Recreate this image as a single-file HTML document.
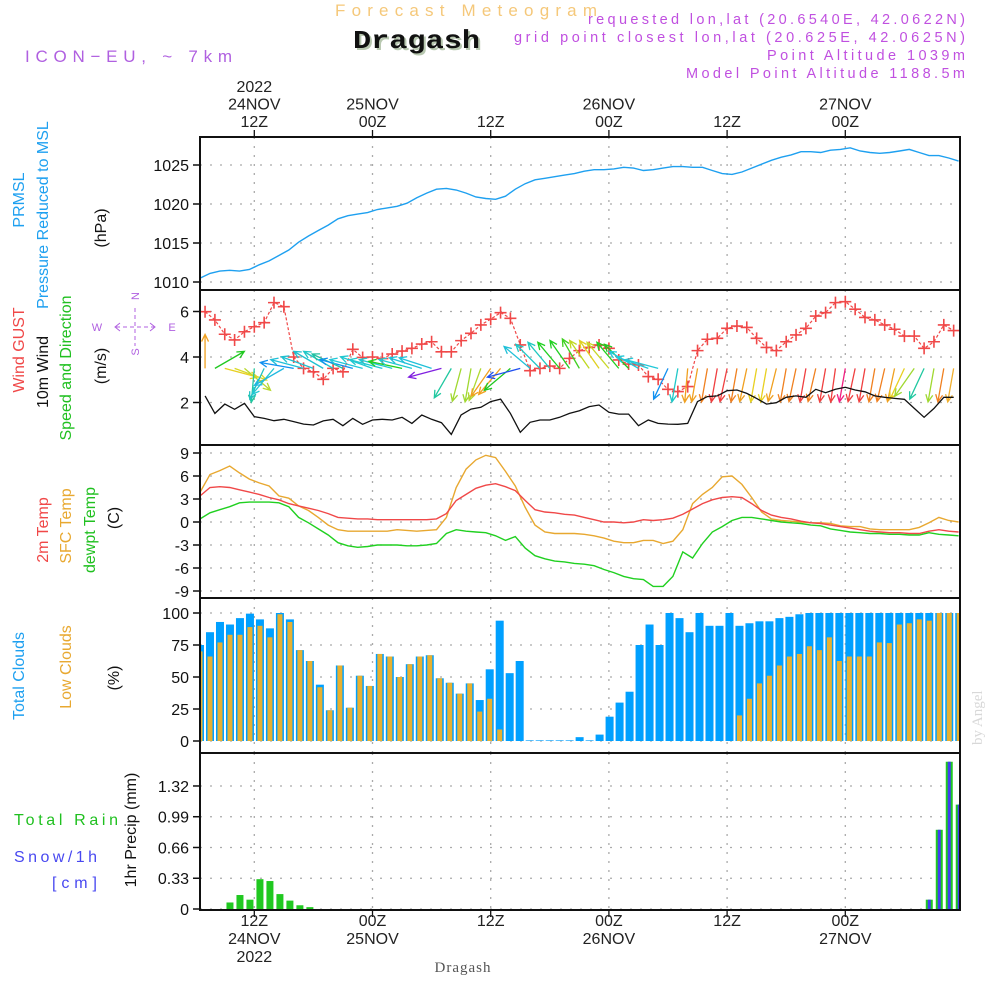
<!DOCTYPE html>
<html><head><meta charset="utf-8"><title>Forecast Meteogram - Dragash</title>
<style>
html,body{margin:0;padding:0;background:#fff;}
svg{display:block;font-family:"Liberation Sans",sans-serif;}
</style></head>
<body>
<svg id="chart" xmlns="http://www.w3.org/2000/svg" width="1000" height="1000" viewBox="0 0 1000 1000">
  <defs><clipPath id="plotclip"><rect x="200" y="130" width="760" height="790"/></clipPath></defs>
  <rect width="1000" height="1000" fill="#fff"/>
  <text x="335" y="16" font-size="17" fill="#f5c87a" textLength="262" lengthAdjust="spacing">Forecast Meteogram</text>
  <text x="355" y="50" font-family="Liberation Mono, monospace" font-weight="bold" font-size="26" fill="#b8c8b0" textLength="127" lengthAdjust="spacingAndGlyphs">Dragash</text>
  <text x="353" y="48" font-family="Liberation Mono, monospace" font-weight="bold" font-size="26" fill="#111" textLength="127" lengthAdjust="spacingAndGlyphs">Dragash</text>
  <text x="25" y="62" font-size="17" fill="#b060e0" textLength="207" lengthAdjust="spacing">ICON−EU, ~ 7km</text>
  <g font-size="14.5" fill="#c050e0" text-anchor="end">
    <text x="965" y="24" textLength="377" lengthAdjust="spacing">requested lon,lat (20.6540E, 42.0622N)</text>
    <text x="965" y="42" textLength="451" lengthAdjust="spacing">grid point closest lon,lat (20.625E, 42.0625N)</text>
    <text x="965" y="60" textLength="198" lengthAdjust="spacing">Point Altitude 1039m</text>
    <text x="965" y="78" textLength="279" lengthAdjust="spacing">Model Point Altitude 1188.5m</text>
  </g>
  <text transform="translate(982,745) rotate(-90)" font-family="Liberation Serif,serif" font-size="15" fill="#d8d8d8">by Angel</text>
  <text x="463" y="972" text-anchor="middle" font-family="Liberation Serif,serif" font-size="15" fill="#555" letter-spacing="1">Dragash</text>

  <g font-size="16">
    <text transform="translate(24,200) rotate(-90)" text-anchor="middle" fill="#1ea0f0">PRMSL</text>
    <text transform="translate(48,215) rotate(-90)" text-anchor="middle" fill="#1ea0f0">Pressure Reduced to MSL</text>
    <text transform="translate(106,228) rotate(-90)" text-anchor="middle" fill="#111">(hPa)</text>
    <text transform="translate(24,350) rotate(-90)" text-anchor="middle" fill="#f04848">Wind GUST</text>
    <text transform="translate(48,372) rotate(-90)" text-anchor="middle" fill="#111">10m Wind</text>
    <text transform="translate(71,368) rotate(-90)" text-anchor="middle" fill="#20c020">Speed and Direction</text>
    <text transform="translate(106,366) rotate(-90)" text-anchor="middle" fill="#111">(m/s)</text>
    <text transform="translate(48,530) rotate(-90)" text-anchor="middle" fill="#f04848">2m Temp</text>
    <text transform="translate(71,526) rotate(-90)" text-anchor="middle" fill="#e8a830">SFC Temp</text>
    <text transform="translate(95,530) rotate(-90)" text-anchor="middle" fill="#20c020">dewpt Temp</text>
    <text transform="translate(119,518) rotate(-90)" text-anchor="middle" fill="#111">(C)</text>
    <text transform="translate(24,676) rotate(-90)" text-anchor="middle" fill="#1ea0f0">Total Clouds</text>
    <text transform="translate(71,667) rotate(-90)" text-anchor="middle" fill="#e8a830">Low Clouds</text>
    <text transform="translate(119,678) rotate(-90)" text-anchor="middle" fill="#111">(%)</text>
    <text x="14" y="825" fill="#20c020" textLength="104" lengthAdjust="spacing">Total  Rain</text>
    <text x="14" y="862" fill="#4848f0" textLength="83" lengthAdjust="spacing">Snow/1h</text>
    <text x="52" y="888" fill="#4848f0" textLength="45" lengthAdjust="spacing">[cm]</text>
    <text transform="translate(136,830) rotate(-90)" text-anchor="middle" fill="#111">1hr Precip (mm)</text>
  </g>
  <g fill="#b060e0" stroke="#b060e0" font-size="11">
    <text x="135" y="300" text-anchor="middle" stroke="none" transform="rotate(-90 135 296)">N</text>
    <text x="97" y="331" text-anchor="middle" stroke="none">W</text>
    <text x="172" y="331" text-anchor="middle" stroke="none">E</text>
    <text x="135" y="356" text-anchor="middle" stroke="none" transform="rotate(-90 135 352)">S</text>
    <line x1="116" y1="327" x2="154" y2="327" stroke-dasharray="4,3"/>
    <line x1="135" y1="308" x2="135" y2="346" stroke-dasharray="4,3"/>
    <path d="M120,323L115,327L120,331M150,323L155,327L150,331" fill="none"/>
  </g>
  <g id="plot"></g>
</svg>
<script>
// ---------- DATA ----------
const pressure = [1010.5,1011.1,1011.4,1011.5,1011.4,1011.6,1012.2,1012.7,1013.4,1014.1,1015.1,1015.9,1016.6,1017.3,1018.1,1018.5,1018.7,1018.9,1019.3,1019.5,1019.7,1020.1,1020.8,1021.4,1021.9,1022.0,1021.8,1021.4,1020.9,1020.7,1020.6,1021.0,1021.9,1022.6,1023.1,1023.3,1023.5,1023.7,1023.9,1024.2,1024.4,1024.4,1024.5,1024.7,1024.6,1024.3,1024.4,1024.6,1024.8,1024.8,1024.7,1024.7,1024.3,1023.9,1023.8,1024.1,1024.6,1025.1,1025.6,1026.0,1026.3,1026.7,1026.7,1026.6,1026.9,1027.0,1027.2,1026.8,1026.6,1026.5,1026.6,1026.8,1027.0,1026.6,1026.2,1026.2,1025.9,1025.5];
const windGust = [5.99,5.63,5.0,4.75,5.11,5.33,5.51,6.39,6.21,4.0,3.5,3.35,3.02,3.5,3.35,4.34,3.98,4.0,3.93,4.13,4.26,4.38,4.57,4.67,4.23,4.23,4.72,5.04,5.41,5.66,5.95,5.7,4.53,3.4,3.5,3.6,3.5,3.94,4.28,4.42,4.53,4.38,3.87,3.69,3.65,3.14,3.02,2.58,2.48,2.7,4.28,4.78,4.82,5.26,5.36,5.3,4.82,4.42,4.28,4.67,4.97,5.26,5.8,5.95,6.39,6.43,6.1,5.74,5.63,5.41,5.22,4.92,4.92,4.38,4.67,5.41,5.16];
const wind10m = [2.29,1.52,1.93,1.70,1.96,1.38,1.30,1.20,1.26,1.16,1.05,1.01,1.19,1.26,0.98,1.30,1.04,1.23,1.26,1.23,1.35,1.08,1.45,1.26,1.11,0.60,1.45,1.71,1.79,2.04,2.15,1.52,0.69,1.13,1.23,1.23,1.35,1.52,1.64,1.82,1.89,1.57,1.49,1.49,0.98,1.23,1.08,1.05,1.04,1.08,2.04,2.26,2.29,2.52,2.55,2.40,2.18,1.93,1.99,2.23,2.29,2.23,2.58,2.43,2.58,2.67,2.55,2.47,2.29,2.23,2.18,2.14,1.74,1.35,1.74,2.23,2.23];
const windDir = [90,30,-15,-20,-40,-95,-115,-130,-150,170,165,160,150,150,155,165,165,160,165,165,168,165,162,162,195,-120,-105,-100,-110,-125,-130,-140,195,140,135,130,130,125,120,125,125,130,130,135,150,160,165,-115,-100,-95,-100,-100,-100,-102,-100,-102,-100,-100,-104,-100,-102,-100,-103,-100,-98,-100,-102,-100,-100,-103,-102,-115,-125,-115,-100,-100,-100];
const windColor = ["#f0a020","#20c820","#e8d020","#d8d828","#b8d830","#20c8a0","#20c0c0","#20c8d0","#20b8e0","#1090f0","#20c0d8","#20c0d0","#20c0d0","#20c8c8","#20c0a0","#1090f0","#20c8d8","#20c8d0","#20c8d0","#20c8d0","#20d020","#20c8d0","#20c0d8","#20c0d8","#8020e0","#20c8a0","#a0d830","#a0d830","#b0d830","#f0a020","#f0a020","#20c820","#2050f0","#20c0d8","#20c8c8","#20c8c0","#20d020","#20d020","#40d020","#c0d820","#e0d020","#c8d828","#20d020","#20c820","#20c8d8","#20c8d8","#20c8d8","#1090f0","#20c8c8","#f0a020","#f0a020","#f08020","#f04040","#f04040","#f08020","#f0a020","#e8d020","#e8d020","#f0a020","#f08020","#f08020","#f04040","#f08020","#f04040","#f04040","#f02080","#f04040","#f04040","#f08020","#f08020","#f0a020","#e8d020","#a0d830","#20c8a0","#a0d830","#f08020","#f0b030"];
const temp2m = [3.4,4.5,4.6,4.5,4.2,3.9,3.6,3.2,2.9,2.4,2.1,1.8,1.5,1.1,0.6,0.5,0.4,0.4,0.3,0.3,0.3,0.3,0.3,0.3,0.4,1.1,2.8,3.6,4.4,4.8,5.0,4.6,4.1,2.8,1.6,1.3,1.2,1.0,0.9,0.6,0.3,0.0,0.0,-0.1,0.0,0.3,0.2,0.3,0.5,1.0,1.7,2.4,2.9,3.2,3.3,3.2,2.4,1.5,0.9,0.6,0.4,0.1,-0.1,-0.2,-0.4,-0.6,-0.8,-1.0,-1.2,-1.3,-1.4,-1.4,-1.5,-1.5,-1.2,-1.0,-1.2,-1.3];
const tempSfc = [3.9,6.2,6.7,7.3,6.4,5.6,5.1,4.7,3.4,3.1,2.1,1.5,0.6,-0.4,-1.0,-1.2,-1.2,-1.2,-1.2,-1.2,-1.0,-1.1,-1.2,-1.1,-1.0,0.6,4.5,6.9,8.1,8.7,8.4,6.6,4.7,1.9,-0.4,-1.3,-1.5,-1.5,-1.5,-1.6,-1.8,-2.1,-2.5,-2.7,-2.7,-2.4,-2.4,-2.8,-2.5,-1.0,2.4,3.6,4.5,5.9,6.0,4.9,3.2,1.3,0.4,0.2,0.1,0.0,-0.1,-0.1,-0.2,-0.5,-0.6,-0.6,-0.9,-1.0,-1.0,-1.0,-1.0,-0.7,-0.1,0.6,0.2,0.0];
const tempDew = [0.4,1.2,1.6,2.0,2.5,2.6,2.6,2.6,2.5,2.0,0.6,-0.1,-0.9,-1.7,-2.7,-3.1,-3.3,-3.2,-3.0,-3.0,-3.0,-3.1,-3.1,-3.0,-2.8,-1.5,-1.0,-1.2,-1.3,-1.4,-1.8,-2.4,-1.9,-3.4,-4.4,-4.8,-5.1,-5.2,-5.4,-5.5,-5.7,-6.2,-6.6,-7.1,-7.4,-7.5,-8.4,-8.4,-7.1,-3.9,-4.7,-2.8,-1.3,-0.6,0.2,0.6,0.6,0.4,0.2,0.0,-0.1,-0.2,-0.4,-0.5,-0.9,-1.1,-1.3,-1.4,-1.5,-1.5,-1.6,-1.6,-1.7,-1.7,-1.4,-1.6,-1.7,-1.8];
const cloudTotal = [75,85,93,91,96,99.5,95,88,100,95,71,62.5,44,24,59,26,51,43,68,66,50,60,66,67,49,45.5,37,45,32,56,94,53,62.5,0.5,0.5,0.5,0.5,0.5,3,0.5,5,19,30,38.5,75,91,75,100,96,85,100,90,90,100,90,92,93.5,93.5,96,97,99,100,100,100,100,100,100,100,100,100,100,100,100,100,100,100,100];
const cloudLow = [70,66,77,83,83,89,90,81,99,93,71,62.5,42,24,59,26,51,43,68,66,50,60,66,67,49,45.5,37,45,23,33,9,0,0,0,0,0,0,0,0,0,0,0,0,0,0,0,0,0,0,0,0,0,0,0,20,33,45,51,59,66,68,74,71,81,62.5,66,66,66,77,76.5,91,92,95,94,100,100,100];
const precipRain = [0,0,0,0.07,0.15,0.10,0.32,0.30,0.16,0.09,0.04,0.02,0,0,0,0,0,0,0,0,0,0,0,0,0,0,0,0,0,0,0,0,0,0,0,0,0,0,0,0,0,0,0,0,0,0,0,0,0,0,0,0,0,0,0,0,0,0,0,0,0,0,0,0,0,0,0,0,0,0,0,0,0,0.1,0.85,1.58,1.12];
const precipSnow = [0,0,0,0,0,0,0,0,0,0,0,0,0,0,0,0,0,0,0,0,0,0,0,0,0,0,0,0,0,0,0,0,0,0,0,0,0,0,0,0,0,0,0,0,0,0,0,0,0,0,0,0,0,0,0,0,0,0,0,0,0,0,0,0,0,0,0,0,0,0,0,0,0,0.1,0.85,1.58,1.12];
const pressureTicks = [1025,1020,1015,1010];
const windTicks = [6,4,2];
const tempTicks = [9,6,3,0,-3,-6,-9];
const cloudTicks = [100,75,50,25,0];
const precipTicks = [1.32,0.99,0.66,0.33,0];
const timeHours = [0,12,24,36,48,60];
const topLabels = [["2022","24NOV","12Z"],["","25NOV","00Z"],["","","12Z"],["","26NOV","00Z"],["","","12Z"],["","27NOV","00Z"]];
const bottomLabels = [["12Z","24NOV","2022"],["00Z","25NOV",""],["12Z","",""],["00Z","26NOV",""],["12Z","",""],["00Z","27NOV",""]];

// ---------- SCALES ----------
const X0 = 200, X1 = 960;
const xH = h => 254.3 + 9.85 * h;
const xSeries = i => xH(-5.5 + i);
const xWind = i => xH(-5.0 + i);
const xBar = i => 200 + i * 9.99;
const yP = v => 165 + (1025 - v) * 7.8;
const yW = v => 357 - (v - 4) * 22.75;
const yT = v => 522 - v * 7.667;
const yC = v => 741 - v * 1.28;
const yR = v => 909 - v * 93.2;
const panels = [[137,290],[290,445],[445,598],[598,753],[753,910]];

const NS = "http://www.w3.org/2000/svg";
const plot = document.getElementById("plot");
function mk(tag, attrs, parent) {
  const e = document.createElementNS(NS, tag);
  for (const k in attrs) e.setAttribute(k, attrs[k]);
  (parent || plot).appendChild(e);
  return e;
}
function grp(name) {
  const g = mk("g", {});
  
  
  return g;
}

const grid = grp('grid-lines');
panels.forEach(([t, b]) => {
  timeHours.forEach(h => {
    const l = mk("line", {x1: xH(h), x2: xH(h), y1: t, y2: b, stroke: "#aaa", "stroke-dasharray": "2,7", "stroke-width": 1.3}, grid);
    
    
  });
});
function hgrid(ticks, yf, name) {
  ticks.forEach(v => {
    const l = mk("line", {x1: X0, x2: X1, y1: yf(v), y2: yf(v), stroke: "#aaa", "stroke-dasharray": "2,8", "stroke-width": 1.3}, grid);
    
    
  });
}
hgrid(pressureTicks, yP, 'pressure-gridline');
hgrid(windTicks, yW, 'wind-gridline');
hgrid(tempTicks, yT, 'temp-gridline');
hgrid(cloudTicks, yC, 'cloud-gridline');
hgrid(precipTicks, yR, 'precip-gridline');

function linePath(arr, xf, yf) {
  return arr.map((v, i) => (i ? "L" : "M") + xf(i).toFixed(1) + "," + yf(v).toFixed(1)).join("");
}

const pLine = mk("path", {d: linePath(pressure, xSeries, yP), fill: "none", stroke: "#1ea0f0", "stroke-width": 1.4});



const gLine = mk("path", {d: linePath(windGust, xWind, yW), fill: "none", stroke: "#f04848", "stroke-width": 1.2, "stroke-dasharray": "3,2"});


const gustG = grp('wind-gust-markers');
windGust.forEach((v, i) => {
  const x = xWind(i), y = yW(v);
  const m = mk("path", {d: `M${x-6},${y}H${x+6}M${x},${y-6}V${y+6}`, stroke: "#f04848", "stroke-width": 1.6}, gustG);
  
  
});
const arrG = grp('wind-direction-arrows');
windDir.forEach((d, i) => {
  const x = xWind(i), y = yW(3.5);
  const a = d * Math.PI / 180, L = 34;
  const x2 = x + L * Math.cos(a), y2 = y - L * Math.sin(a);
  const hl = 8, s = 0.45;
  const h1x = x2 - hl * Math.cos(a - s), h1y = y2 + hl * Math.sin(a - s);
  const h2x = x2 - hl * Math.cos(a + s), h2y = y2 + hl * Math.sin(a + s);
  const p = mk("path", {d: `M${x},${y}L${x2},${y2}M${h1x},${h1y}L${x2},${y2}L${h2x},${h2y}`, stroke: windColor[i], "stroke-width": 1.3, fill: "none"}, arrG);
  
  
});
const wLine = mk("path", {d: linePath(wind10m, xWind, yW), fill: "none", stroke: "#111", "stroke-width": 1.3});



[[tempSfc, "#e8a830", "sfc-temp-line"], [temp2m, "#f04848", "temp-2m-line"], [tempDew, "#20d020", "dewpoint-line"]].forEach(([arr, c, n]) => {
  const l = mk("path", {d: linePath(arr, xSeries, yT), fill: "none", stroke: c, "stroke-width": 1.4});
  
  
});

const cG = grp('cloud-bars');
cG.setAttribute("clip-path", "url(#plotclip)");
cloudTotal.forEach((v, i) => {
  const x = xBar(i);
  const b = mk("rect", {x: x - 4, y: yC(v), width: 8, height: Math.max(0.6, 741 - yC(v)), fill: "#00a0ff"}, cG);
  
  
  const lv = cloudLow[i];
  if (lv > 0) {
    const r = mk("rect", {x: x - 2.5, y: yC(lv), width: 5, height: 741 - yC(lv), fill: "#e8b030"}, cG);
    
    
  }
});

const rG = grp('precip-bars');
rG.setAttribute("clip-path", "url(#plotclip)");
precipRain.forEach((v, i) => {
  const x = xBar(i);
  if (v > 0) {
    const b = mk("rect", {x: x - 3.5, y: yR(v), width: 7, height: 909 - yR(v), fill: "#20c820"}, rG);
    
    
  }
  const s = precipSnow[i];
  if (s > 0) {
    const r = mk("rect", {x: x - 1.5, y: yR(s), width: 3, height: 909 - yR(s), fill: "#4040f0"}, rG);
    
    
  }
});

const fG = grp('panel-frames');
panels.forEach(([t, b]) => {
  const r = mk("rect", {x: X0, y: t, width: X1 - X0, height: b - t, fill: "none", stroke: "#111", "stroke-width": 2}, fG);
  
  
});

const tG = grp('y-tick-labels');
function yticks(ticks, yf, name) {
  ticks.forEach(v => {
    const y = yf(v);
    const tk = mk("line", {x1: X0 - 7, x2: X0, y1: y, y2: y, stroke: "#111", "stroke-width": 1.5}, tG);
    
    
    const t = mk("text", {x: X0 - 11, y: y + 6, "text-anchor": "end", "font-size": 16, fill: "#111"}, tG);
    t.textContent = String(v);
    
    
  });
}
yticks(pressureTicks, yP, 'pressure');
yticks(windTicks, yW, 'wind');
yticks(tempTicks, yT, 'temp');
yticks(cloudTicks, yC, 'cloud');
yticks(precipTicks, yR, 'precip');

const xG = grp('x-axis-labels');
timeHours.forEach((h, k) => {
  const x = xH(h);
  const tk1 = mk("line", {x1: x, x2: x, y1: 130, y2: 137, stroke: "#111", "stroke-width": 1.3}, xG);
  
  
  const tk2 = mk("line", {x1: x, x2: x, y1: 910, y2: 917, stroke: "#111", "stroke-width": 1.3}, xG);
  
  
  topLabels[k].forEach((s, j) => {
    if (!s) return;
    const t = mk("text", {x: x, y: 92 + j * 17.5, "text-anchor": "middle", "font-size": 16, fill: "#222"}, xG);
    t.textContent = s;
    
    
  });
  bottomLabels[k].forEach((s, j) => {
    if (!s) return;
    const t = mk("text", {x: x, y: 926 + j * 18, "text-anchor": "middle", "font-size": 16, fill: "#222"}, xG);
    t.textContent = s;
    
    
  });
});
</script>
</body></html>
